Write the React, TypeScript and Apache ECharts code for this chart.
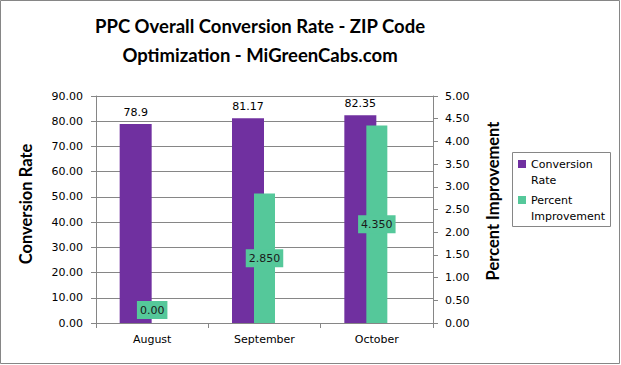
import React, { useEffect, useRef } from "react";
import * as echarts from "echarts";

const months = ["August", "September", "October"];
const conversionRate = [78.9, 81.17, 82.35];
const percentImprovement = [0, 2.85, 4.35];
const percentLabels = ["0.00", "2.850", "4.350"];
const spacerData: number[] = [];

const titleText = "PPC Overall Conversion Rate - ZIP Code\nOptimization - MiGreenCabs.com";
const leftAxisName = "Conversion Rate";
const rightAxisName = "Percent Improvement";

const PURPLE = "#7030A0";
const GREEN = "#55C89A";
const GRAY = "#868686";
const LABEL_FONT = "DejaVu Sans";
const TITLE_FONT = "Lato";

export default function App() {
  const ref = useRef<HTMLDivElement>(null);
  useEffect(() => {
    if (!ref.current) return;
    const chart = echarts.init(ref.current, null, { renderer: "svg" });
    chart.setOption({
      animation: false,
      backgroundColor: "#fff",
      title: {
        text: titleText,
        left: 260,
        top: 11,
        padding: 0,
        textAlign: "center",
        textStyle: { fontFamily: TITLE_FONT, fontWeight: "bold", fontSize: 18.5, lineHeight: 29, color: "#000" },
      },
      legend: {
        data: [leftAxisName, rightAxisName],
        orient: "vertical",
        left: 518,
        top: 140,
        padding: 0,
        itemWidth: 8,
        itemHeight: 8,
        itemGap: -12,
        icon: "rect",
        selectedMode: false,
        formatter: (n: string) => " \n" + n.replace(" ", "\n"),
        textStyle: { fontFamily: LABEL_FONT, fontSize: 11, color: "#000", lineHeight: 16 },
      },
      graphic: [
        { type: "rect", shape: { x: 0.5, y: 0.5, width: 619, height: 363 }, style: { fill: "none", stroke: GRAY, lineWidth: 1 }, silent: true },
        { type: "rect", shape: { x: 512.5, y: 152.5, width: 98, height: 74 }, style: { fill: "none", stroke: GRAY, lineWidth: 1 }, silent: true },
      ],
      grid: { left: 96, right: 188, top: 96, bottom: 42, containLabel: false },
      xAxis: [
        {
          type: "category",
          data: months,
          axisLine: { show: true, lineStyle: { color: GRAY, width: 1 } },
          axisTick: { show: true, length: 5, interval: 0, lineStyle: { color: GRAY } },
          axisLabel: { fontFamily: LABEL_FONT, fontSize: 11, color: "#000", margin: 11 },
        },
        { type: "category", data: months, show: false },
      ],
      yAxis: [
        {
          type: "value",
          min: 0,
          max: 90,
          interval: 10,
          name: leftAxisName,
          nameLocation: "middle",
          nameRotate: 90,
          nameGap: 62,
          nameTextStyle: { fontFamily: TITLE_FONT, fontWeight: "bold", fontSize: 16.5, color: "#000", padding: [0, 0, 0, 11] },
          axisLine: { show: true, lineStyle: { color: GRAY } },
          axisTick: { show: true, length: 5, lineStyle: { color: GRAY } },
          axisLabel: { fontFamily: LABEL_FONT, fontSize: 11, color: "#000", margin: 13, formatter: (v: number) => v.toFixed(2) },
          splitLine: { show: true, lineStyle: { color: GRAY, width: 1 } },
        },
        {
          type: "value",
          min: 0,
          max: 5,
          interval: 0.5,
          position: "right",
          name: rightAxisName,
          nameLocation: "middle",
          nameRotate: 90,
          nameGap: 51,
          nameTextStyle: { fontFamily: TITLE_FONT, fontWeight: "bold", fontSize: 16.5, color: "#000", padding: [0, 0, 0, 17] },
          axisLine: { show: true, lineStyle: { color: GRAY } },
          axisTick: { show: true, length: 5, lineStyle: { color: GRAY } },
          axisLabel: { fontFamily: LABEL_FONT, fontSize: 11, color: "#000", margin: 12, formatter: (v: number) => v.toFixed(2) },
          splitLine: { show: false },
        },
      ],
      series: [
        {
          name: leftAxisName,
          type: "bar",
          xAxisIndex: 0,
          yAxisIndex: 0,
          data: conversionRate,
          barWidth: 32,
          barGap: "0%",
          itemStyle: { color: PURPLE },
          label: { show: true, position: "top", distance: 6, fontFamily: LABEL_FONT, fontSize: 11, color: "#000" },
        },
        {
          name: "spacer",
          type: "bar",
          xAxisIndex: 0,
          yAxisIndex: 0,
          data: spacerData,
          barWidth: 33,
          barGap: "0%",
          silent: true,
        },
        {
          name: rightAxisName,
          type: "bar",
          xAxisIndex: 1,
          yAxisIndex: 1,
          barWidth: 21,
          itemStyle: { color: GREEN },
          data: percentImprovement.map((v) =>
            v === 0
              ? { value: v, label: { position: "top", distance: 4 } }
              : { value: v }
          ),
          label: {
            show: true,
            position: "inside",
            fontFamily: LABEL_FONT,
            fontSize: 11,
            color: "#1a1a1a",
            backgroundColor: GREEN,
            padding: [4, 3, 3, 3],
            formatter: (p: any) => percentLabels[p.dataIndex],
          },
        },
      ],
    });
    return () => chart.dispose();
  }, []);
  return <div ref={ref} style={{ position: "absolute", left: 0, top: 0, width: 621, height: 365 }} />;
}
